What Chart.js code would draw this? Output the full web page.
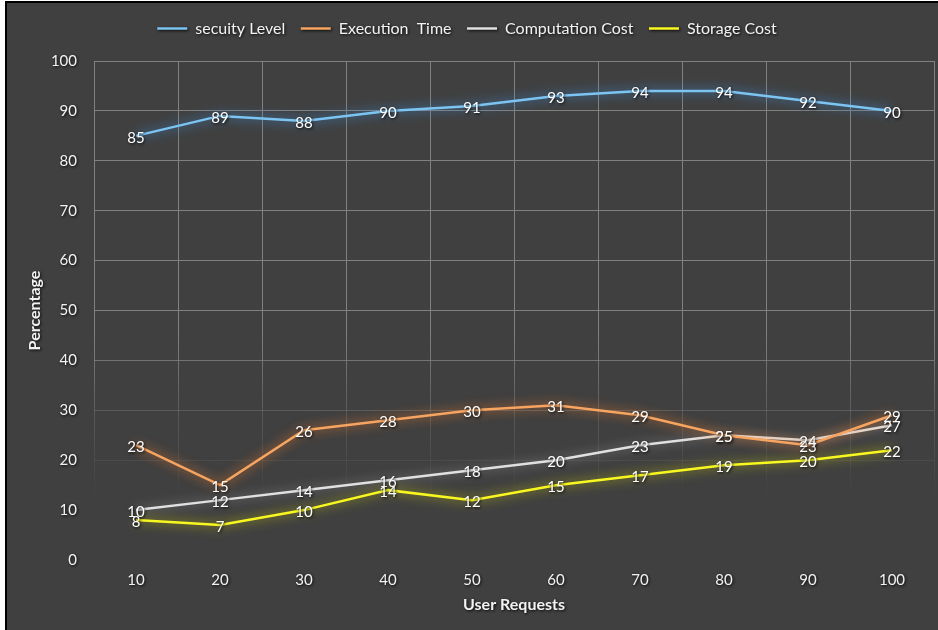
<!DOCTYPE html>
<html>
<head>
<meta charset="utf-8">
<script src="https://cdn.jsdelivr.net/npm/chart.js@4.4.1/dist/chart.umd.min.js"></script>
<style>
  html, body { margin: 0; padding: 0; background: #fff; }
  #wrap { position: relative; width: 938px; height: 630px; overflow: hidden; }
  #frame {
    position: absolute; left: 5px; top: 1px; width: 960px; height: 660px;
    background: #404040; border-left: 2px solid #000; border-top: 2px solid #000;
  }
  #myChart { position: absolute; left: 0; top: 0; }
</style>
</head>
<body>
<div id="wrap">
  <div id="frame"></div>
  <canvas id="myChart" width="938" height="630"></canvas>
</div>
<script>
const userRequests = ['10', '20', '30', '40', '50', '60', '70', '80', '90', '100'];
const securityLevel = [85, 89, 88, 90, 91, 93, 94, 94, 92, 90];
const executionTime = [23, 15, 26, 28, 30, 31, 29, 25, 23, 29];
const computationCost = [10, 12, 14, 16, 18, 20, 23, 25, 24, 27];
const storageCost = [8, 7, 10, 14, 12, 15, 17, 19, 20, 22];

const FONT = 'Lato';
const TEXT = '#f2f2f2';

// dark halo behind text, like the excel "shadow" text effect
function withShadow(fn) {
  return function (...args) {
    const ctx = this.ctx;
    ctx.save();
    ctx.shadowColor = 'rgba(0,0,0,0.9)';
    ctx.shadowBlur = 3;
    ctx.shadowOffsetX = 1;
    ctx.shadowOffsetY = 1;
    fn.apply(this, args);
    ctx.restore();
  };
}

// grid lines fade out towards the bottom of the plot
function gridColor(context) {
  const chart = context.chart;
  const area = chart.chartArea;
  if (!area) return '#808080';
  const g = chart.ctx.createLinearGradient(0, area.top, 0, area.bottom);
  g.addColorStop(0, 'rgba(128,128,128,1)');
  g.addColorStop(0.55, 'rgba(128,128,128,1)');
  g.addColorStop(0.72, 'rgba(128,128,128,0.35)');
  g.addColorStop(0.88, 'rgba(128,128,128,0)');
  g.addColorStop(1, 'rgba(128,128,128,0)');
  return g;
}

const textShadowPlugin = {
  id: 'textShadow',
  beforeDraw(chart) {
    Object.values(chart.scales).forEach(s => {
      if (!s._shadowed) {
        s.drawLabels = withShadow(s.drawLabels);
        s.drawTitle = withShadow(s.drawTitle);
        s._shadowed = true;
      }
    });
    if (chart.legend && !chart.legend._shadowed) {
      chart.legend.draw = withShadow(chart.legend.draw);
      chart.legend._shadowed = true;
    }
  }
};

const glowPlugin = {
  id: 'glow',
  beforeDatasetDraw(chart, args) {
    const ds = chart.data.datasets[args.index];
    const ctx = chart.ctx;
    ctx.save();
    ctx.shadowColor = ds.glowColor;
    ctx.shadowBlur = 11;
  },
  afterDatasetDraw(chart) {
    chart.ctx.restore();
  }
};

// value labels sitting right on the points
const valueLabels = {
  id: 'valueLabels',
  afterDatasetsDraw(chart) {
    const ctx = chart.ctx;
    ctx.save();
    ctx.font = `15px ${FONT}`;
    ctx.fillStyle = '#ffffff';
    ctx.textAlign = 'center';
    ctx.textBaseline = 'middle';
    ctx.shadowColor = 'rgba(0,0,0,0.9)';
    ctx.shadowBlur = 3;
    ctx.shadowOffsetX = 1;
    ctx.shadowOffsetY = 1;
    chart.data.datasets.forEach((ds, i) => {
      const meta = chart.getDatasetMeta(i);
      meta.data.forEach((pt, j) => {
        ctx.fillText(String(ds.data[j]), pt.x, pt.y + 2);
      });
    });
    ctx.restore();
  }
};

function line(label, data, color, glow) {
  return {
    label: label,
    data: data,
    borderColor: color,
    backgroundColor: color,
    borderWidth: 2.5,
    pointRadius: 0,
    tension: 0,
    glowColor: glow
  };
}

const ctx = document.getElementById('myChart').getContext('2d');

const myChart = new Chart(ctx, {
  type: 'line',
  data: {
    labels: userRequests,
    datasets: [
      line('secuity Level', securityLevel, '#7cc4f2', 'rgba(60,150,235,1)'),
      line('Execution  Time', executionTime, '#f6a460', 'rgba(245,125,40,1)'),
      line('Computation Cost', computationCost, '#e0e0e0', 'rgba(150,150,150,0.9)'),
      line('Storage Cost', storageCost, '#f8f820', 'rgba(215,215,0,0.9)')
    ]
  },
  options: {
    responsive: false,
    animation: false,
    devicePixelRatio: 1,
    layout: { padding: { top: 5, right: 4, bottom: 0, left: 0 } },
    plugins: {
      legend: {
        position: 'top',
        labels: {
          color: TEXT,
          font: { family: FONT, size: 16 },
          usePointStyle: true,
          pointStyle: 'line',
          pointStyleWidth: 30,
          padding: 15.5
        }
      },
      // empty spacer between legend and plot
      subtitle: {
        display: true,
        text: '',
        weight: 900,
        padding: 0,
        font: { size: 14.5, lineHeight: 1 }
      },
      tooltip: { enabled: false }
    },
    scales: {
      x: {
        offset: true,
        grid: { offset: true, drawTicks: false, color: gridColor, lineWidth: 1 },
        border: { display: false },
        ticks: { color: TEXT, font: { family: FONT, size: 15 }, padding: 11 },
        title: {
          display: true,
          text: 'User Requests',
          color: TEXT,
          font: { family: FONT, size: 16, weight: 'bold' },
          padding: { top: 0, bottom: 16 }
        },
        afterFit(scale) { scale.height = 70; }
      },
      y: {
        min: 0,
        max: 100,
        grid: { drawTicks: false, color: gridColor, lineWidth: 1 },
        border: { display: false },
        ticks: { stepSize: 10, color: TEXT, font: { family: FONT, size: 15 }, padding: 17 },
        title: {
          display: true,
          text: 'Percentage',
          color: TEXT,
          font: { family: FONT, size: 16, weight: 'bold' },
          padding: { top: 25, bottom: 0 }
        },
        afterFit(scale) { scale.width = 94; }
      }
    }
  },
  plugins: [textShadowPlugin, glowPlugin, valueLabels]
});
</script>
</body>
</html>
